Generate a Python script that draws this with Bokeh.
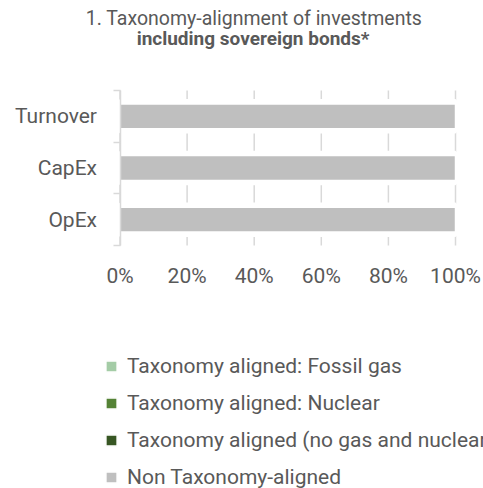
from bokeh.plotting import figure
from bokeh.models import (Range1d, FixedTicker, PrintfTickFormatter, Legend, LegendItem,
                          Label, ColumnDataSource, LinearAxis)
from bokeh.embed import file_html
from bokeh.resources import INLINE

# ---- data ----
categories = ["Turnover", "CapEx", "OpEx"]
fossil_gas = [0, 0, 0]
nuclear = [0, 0, 0]
aligned_no_gas_nuclear = [0, 0, 0]
non_aligned = [100, 100, 100]
x_ticks = [0, 20, 40, 60, 80, 100]
series_keys = ["fossil_gas", "nuclear", "aligned", "non_aligned"]
series_labels = ["Taxonomy aligned: Fossil gas", "Taxonomy aligned: Nuclear",
                 "Taxonomy aligned (no gas and nuclear)", "Non Taxonomy-aligned"]
series_colors = ["#a4cca6", "#548235", "#375623", "#bfbfbf"]
title_line1 = "1. Taxonomy-alignment of investments"
title_line2 = "including sovereign bonds*"

FONT = "Roboto"
TXT = "#595959"
GRID = "#d9d9d9"

# ---- layout (pixels) ----
W, H = 483, 488
AX_L, AX_R = 119.5, 455.0      # pixel positions of 0% and 100%
AX_T, AX_B = 90.0, 245.0       # pixel top/bottom of the category band

n = len(categories)
ypos = [n - 0.5 - i for i in range(n)]          # category centres, first category on top
edges = [float(i) for i in range(n + 1)]        # category boundaries

xs = (AX_R - AX_L) / (x_ticks[-1] - x_ticks[0])
ys = (AX_B - AX_T) / n
x_range = Range1d(x_ticks[0] - AX_L / xs, x_ticks[-1] + (W - AX_R) / xs)
y_range = Range1d(-(H - AX_B) / ys, n + AX_T / ys)

source = ColumnDataSource(dict(y=ypos, fossil_gas=fossil_gas, nuclear=nuclear,
                               aligned=aligned_no_gas_nuclear, non_aligned=non_aligned,
                               lo=[x_ticks[0]] * n, hi=[x_ticks[-1]] * n))
grid_src = ColumnDataSource(dict(x=x_ticks, y0=[0] * len(x_ticks), y1=[n] * len(x_ticks)))

p = figure(width=W, height=H, output_backend="svg", toolbar_location=None, title=None,
           x_range=x_range, y_range=y_range, x_axis_location=None, y_axis_location=None,
           min_border=0)
p.outline_line_color = None
p.background_fill_color = "white"
p.grid.visible = False

# gridlines
p.segment(x0="x", y0="y0", x1="x", y1="y1", source=grid_src, line_color=GRID, line_width=1.5)

# x axis (labels only) fixed at the bottom of the category band
xaxis = LinearAxis(fixed_location=0, ticker=FixedTicker(ticks=x_ticks, minor_ticks=[]),
                   formatter=PrintfTickFormatter(format="%d%%"),
                   axis_line_color=None, major_tick_line_color=None, minor_tick_line_color=None,
                   major_tick_out=0, major_tick_in=0, major_label_standoff=18,
                   major_label_text_font=FONT, major_label_text_font_size="21px",
                   major_label_text_color=TXT)
p.add_layout(xaxis, "below")

# y axis fixed at 0%: labels at category centres, ticks at category boundaries
yaxis = LinearAxis(fixed_location=0, bounds=(0, n),
                   ticker=FixedTicker(ticks=ypos, minor_ticks=edges),
                   major_label_overrides={y: c for y, c in zip(ypos, categories)},
                   axis_line_color=GRID, axis_line_width=1.5,
                   major_tick_line_color=None, major_tick_out=0, major_tick_in=0,
                   minor_tick_line_color=GRID, minor_tick_line_width=1.5,
                   minor_tick_out=7, minor_tick_in=0, major_label_standoff=16,
                   major_label_text_font=FONT, major_label_text_font_size="21px",
                   major_label_text_color=TXT)
p.add_layout(yaxis, "left")

# white band behind bars (hides gridlines around bars)
p.hbar(y="y", left="lo", right="hi", height=0.59, source=source,
       fill_color="white", line_color="white", line_width=4)
renderers = p.hbar_stack(series_keys, y="y", height=0.48, source=source,
                         color=series_colors, line_color="white", line_width=1.5)

legend = Legend(items=[LegendItem(label=lab, renderers=[r]) for lab, r in zip(series_labels, renderers)],
                location=(104, -1), orientation="vertical",
                background_fill_alpha=0, border_line_color=None, padding=0, margin=0,
                spacing=13, glyph_width=14, glyph_height=14, label_standoff=9,
                label_height=20, label_text_font=FONT, label_text_font_size="21px",
                label_text_color=TXT)
p.add_layout(legend, "center")

# title lines
p.add_layout(Label(x=253.5, y=H - 18, x_units="screen", y_units="screen", text=title_line1,
                   text_align="center", text_baseline="middle", text_font=FONT,
                   text_font_size="19.5px", text_color=TXT))
p.add_layout(Label(x=252.5, y=H - 38, x_units="screen", y_units="screen", text=title_line2,
                   text_align="center", text_baseline="middle", text_font=FONT,
                   text_font_size="19px", text_font_style="bold", text_color=TXT))

open("out.html", "w").write(file_html(p, INLINE))
